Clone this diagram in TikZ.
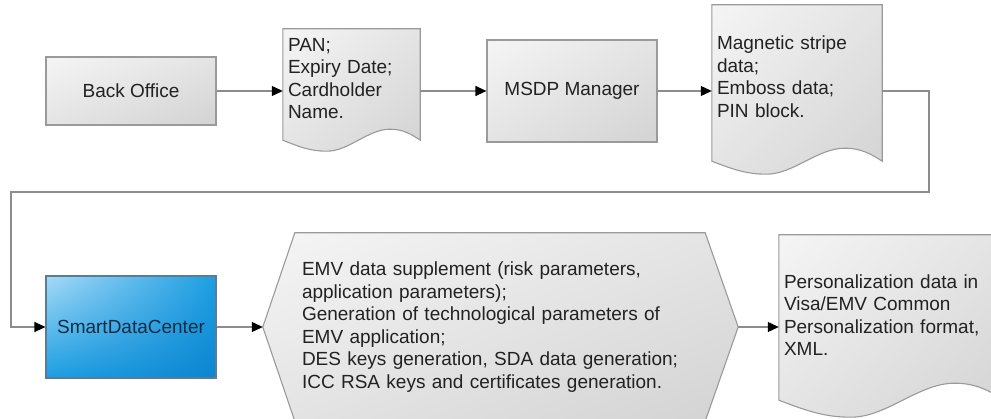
\documentclass[tikz,border=0pt]{standalone}
\usepackage{fontspec}
\setmainfont{Liberation Sans}
\usetikzlibrary{arrows.meta,calc,backgrounds,shadings}
\definecolor{borderGray}{HTML}{9A9A9A}
\definecolor{lineGray}{HTML}{8C8C8C}
\definecolor{grayLight}{HTML}{F5F5F5}
\definecolor{grayMid}{HTML}{E4E4E4}
\definecolor{grayDark}{HTML}{D3D3D3}
\definecolor{textDark}{HTML}{222222}
\definecolor{sdcLight}{HTML}{A6DAF6}
\definecolor{sdcMid}{HTML}{1C9EE3}
\definecolor{sdcDark}{HTML}{0B85CF}
\definecolor{sdcBorder}{HTML}{5C7C96}
\definecolor{sdcText}{HTML}{0F2D44}

\begin{document}
\begin{tikzpicture}
[x=1pt,y=-1pt,font=\fontsize{19pt}{22.5pt}\selectfont,
  boxDecorate/.style={draw=borderGray,line width=1.1pt,upper left=grayLight,upper right=grayMid,
    lower left=grayMid,lower right=grayDark,minimum width=170pt,text=textDark},
  docDecorate/.style={inner xsep=5pt,inner ysep=0pt,align=left,text=textDark},
  shapeDecorate/.style={draw=borderGray,line width=1.1pt,upper left=grayLight,upper right=grayMid,
    lower left=grayMid,lower right=grayDark},
  flowDecorate/.style={draw=lineGray,line width=1.1pt,-{Triangle[length=11pt,width=10pt,black]}}]
\useasboundingbox (0,0) rectangle (991,419);
%% process boxes
\node (backoffice) at (131,91) [boxDecorate,minimum height=68pt] {Back Office};
\node (msdp) at (572,91) [boxDecorate,minimum height=102pt] {MSDP Manager};
\node (sdc) at (131,327) [boxDecorate,minimum height=102pt,draw=sdcBorder,text=sdcText,
  upper left=sdcLight,upper right=sdcMid,lower left=sdcMid,lower right=sdcDark] {SmartDataCenter};
%% documents
\node (pan) at (351.5,78.5) [docDecorate,text width=127pt,minimum height=99pt]
  {PAN;\\Expiry Date;\\Cardholder\\Name.};
\node (stripe) at (797,76.5) [docDecorate,text width=160pt,minimum height=143pt]
  {Magnetic stripe\\data;\\Emboss data;\\PIN block.};
\node (perso) at (891.5,315) [docDecorate,text width=215pt,minimum height=160pt]
  {Personalization data in\\Visa/EMV Common\\Personalization format,\\XML.};
%% generation step
\node (gen) at (500.5,327) [docDecorate,inner xsep=39pt,text width=397pt,minimum height=188pt]
  {EMV data supplement (risk parameters,\\application parameters);\\Generation of technological parameters of\\EMV application;\\DES keys generation, SDA data generation;\\ICC RSA keys and certificates generation.};
%% outlines behind the texts
\begin{scope}[on background layer]
\foreach \d/\w/\drop/\amp in {pan/137/12/11, stripe/170/13/13, perso/225/5/17}
{
  \draw[shapeDecorate] (\d.north west) -- ($(\d.south west)+(0,\drop)$)
    .. controls +({0.12*\w},{0.6*\amp}) and +({-0.12*\w},0) .. ($(\d.south west)!0.32!(\d.south east)+(0,\drop+\amp)$)
    .. controls +({0.16*\w},0) and +({-0.16*\w},0) .. ($(\d.south west)!0.78!(\d.south east)+(0,\drop-\amp)$)
    .. controls +({0.1*\w},0) and +({-0.06*\w},{-0.5*\amp}) .. ($(\d.south east)+(0,\drop)$)
    -- (\d.north east) -- cycle;
}
\draw[shapeDecorate] (gen.west) -- ($(gen.north west)+(32,0)$) -- ($(gen.north east)+(-33,0)$)
  -- (gen.east) -- ($(gen.south east)+(-33,0)$) -- ($(gen.south west)+(32,0)$) -- cycle;
\end{scope}
%% connectors
\foreach \s/\e in {backoffice/pan, pan/msdp, msdp/stripe}
  \draw[flowDecorate] (\s.east |- msdp.east) -- (\e.west |- msdp.east);
\foreach \s/\e in {sdc/gen, gen/perso}
  \draw[flowDecorate] (\s.east |- gen.east) -- (\e.west |- gen.east);
\coordinate (loopR) at (929,192);
\coordinate (loopL) at (11,192);
\draw[flowDecorate] (stripe.east |- msdp.east) -| (loopR) -- (loopL) |- (sdc.west);
\end{tikzpicture}
\end{document}
